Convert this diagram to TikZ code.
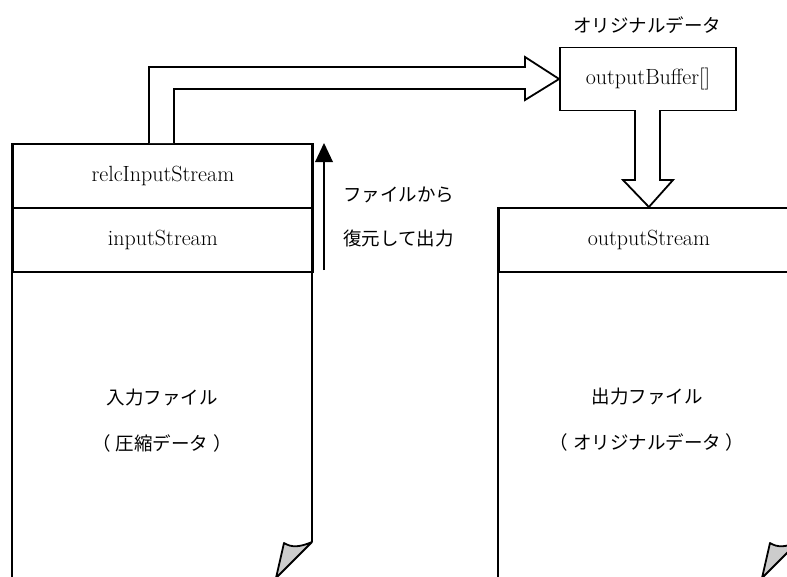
\documentclass[tikz,border=0pt]{standalone}
\usepackage{fontspec}
\newfontfamily\jp{Noto Sans CJK JP}
\begin{document}
\begin{tikzpicture}[x=1pt,y=-1pt,
  lw/.style={line width=1.8pt},
  row/.style={draw,lw,minimum width=300pt,minimum height=64pt,inner sep=0pt,
    font=\fontsize{22}{25}\selectfont},
  jtext/.style={font=\jp\fontsize{18.5}{21}\selectfont,inner sep=0pt},
  fat/.style={draw,lw,fill=white,line join=miter},
  curl/.style={draw,lw,fill=black!20,line join=round}]
\useasboundingbox (0,0) rectangle (787,576);
\clip (0,0) rectangle (787,576);

% ---------- left file ----------
\draw[lw] (12,143) -- (12,590);
\draw[lw] (312,143) -- (312,542);
\draw[lw] (276,578) -- (12,578);
\node[row,anchor=north west] (relc) at (12,143) {relcInputStream};
\node[row,anchor=north west] (inp) at (12,207) {inputStream};
\draw[curl] (312,542) .. controls (300,547) and (292,548) .. (284,543) -- (276,578) -- cycle;
\node[jtext] (inlabel) at (162,398) {入力ファイル};
\node[jtext] (inlabel2) at (162,443) {（\hspace{5pt}圧縮データ\hspace{5pt}）};

% ---------- right file ----------
\draw[lw] (498,207) -- (498,590);
\draw[lw] (798,207) -- (798,542);
\node[row,anchor=north west] (outs) at (498,207) {outputStream};
\draw[curl] (798,542) .. controls (786,547) and (778,548) .. (770,543) -- (762,578) -- cycle;
\node[jtext] (outlabel) at (647,397) {出力ファイル};
\node[jtext] (outlabel2) at (647,442) {（\hspace{5pt}オリジナルデータ\hspace{5pt}）};

% ---------- buffer ----------
\node[draw,lw,minimum width=176pt,minimum height=63pt,inner sep=0pt,
  font=\fontsize{22}{25}\selectfont] (buf) at (648,79) {outputBuffer[]};
\node[jtext] (buflabel) at (647,25) {オリジナルデータ};

% ---------- fat arrow: relc -> buffer ----------
\draw[fat] (relc.north west) ++(137,0) coordinate (a1) -- (149,67) -- (525,67) -- (525,57)
  -- (buf.west) -- (525,100) -- (525,89) -- (174,89) -- (174,143) coordinate (a2);

% ---------- fat arrow: buffer -> outputStream ----------
\draw[fat] (635,110) -- (635,180) -- (623,180) -- (outs.north) -- (673,180) -- (660,180) -- (660,110);

% ---------- thin arrow ----------
\coordinate (t0) at (324,270);
\coordinate (t1) at (324,143);
\draw[lw] (t0) -- (324,160);
\fill (t1) -- (315,162) -- (333,162) -- cycle;
\node[jtext,anchor=west] (tl1) at (343,195) {ファイルから};
\node[jtext,anchor=west] (tl2) at (343,238) {復元して出力};
\end{tikzpicture}
\end{document}
